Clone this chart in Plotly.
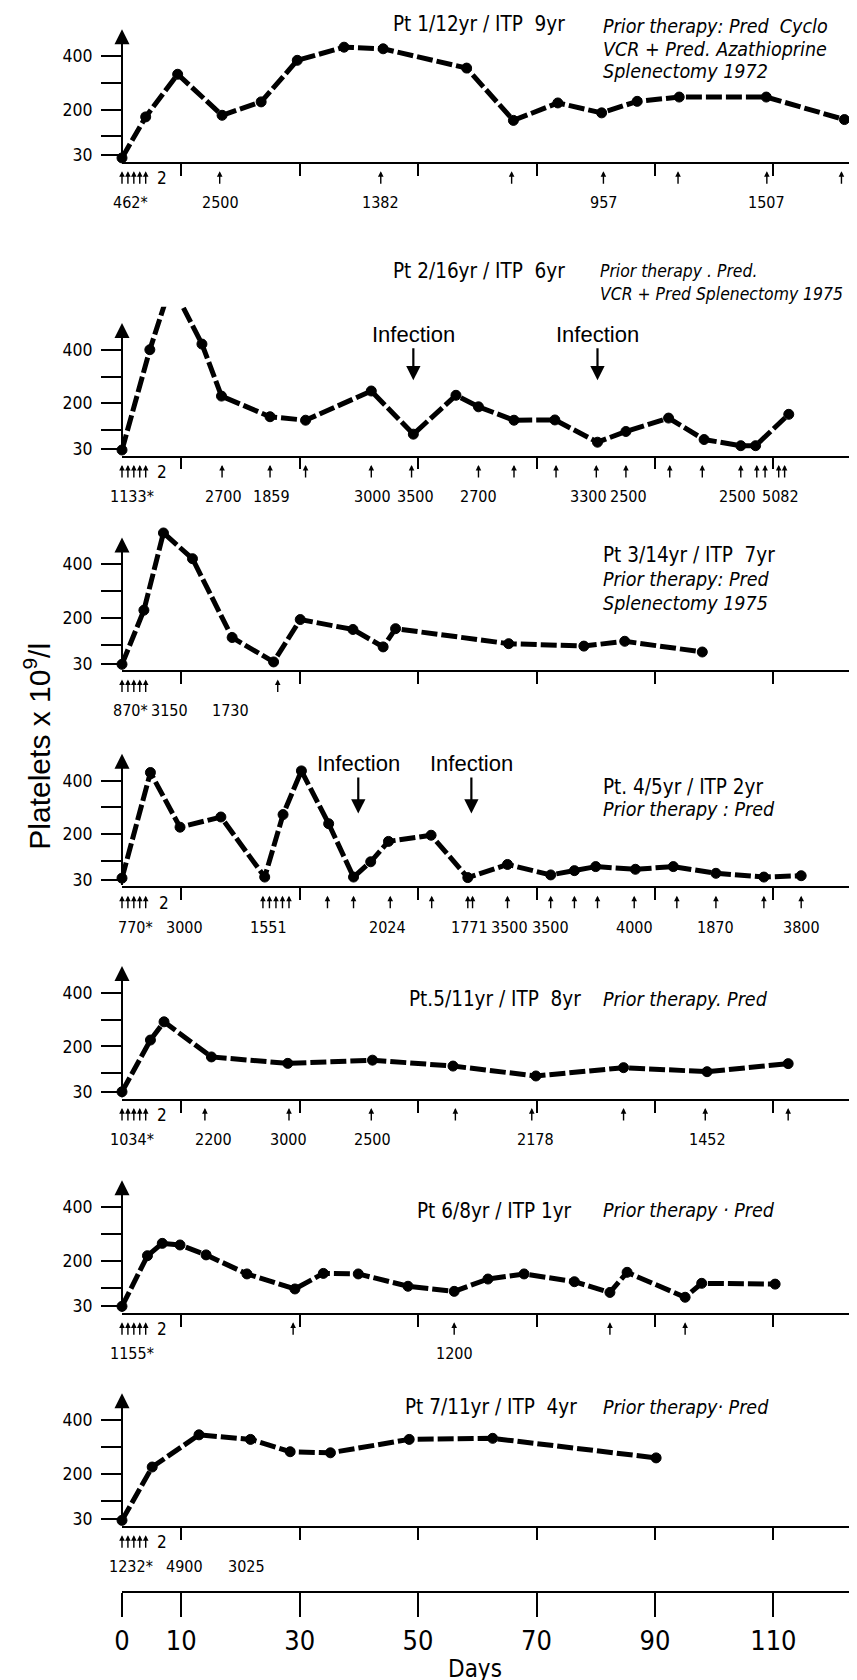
import plotly.graph_objects as go

W, H = 857, 1680
ML, MR, MT, MB = 114, 4, 0, 0
X_MAX = 124.8
Y_LO, Y_HI = 5, 560
PXU = 0.2686  # pixels per platelet unit
NARROW = "Liberation Sans Narrow, DejaVu Sans Condensed, Arial Narrow, sans-serif"
SANS = "Liberation Sans, Arial, sans-serif"

X_TICKS = [10, 30, 50, 70, 90, 110]
BOTTOM_TICKS = [0, 10, 30, 50, 70, 90, 110]
BOTTOM_TICKTEXT = ["0", "10", "30", "50", "70", "90", "110"]
Y_TICKS = [30, 200, 400]
Y_TICKTEXT = ["30", "200", "400"]
Y_MINOR_TICKS = [100, 300]

# ---------------- data ----------------
p1_days = [0, 4.0, 9.4, 16.9, 23.5, 29.6, 37.5, 44.1, 58.2, 66.1, 73.6, 81.0, 87.0, 94.1, 108.8, 122.0]
p1_vals = [20, 173, 332, 179, 229, 384, 433, 427, 355, 160, 225, 188, 231, 247, 247, 163]
p1_doses = [0, 1, 2, 3, 4, 16.5, 43.7, 65.8, 81.3, 93.9, 108.9, 121.5]
p1_label_days = [1.5, 16.6, 43.7, 81.3, 108.9]
p1_labels = ["462*", "2500", "1382", "957", "1507"]

p2_days = [0, 4.7, 8.3, 13.5, 16.8, 25.0, 31.0, 42.1, 49.2, 56.4, 60.2, 66.2, 73.1, 80.3, 85.1, 92.3, 98.3, 104.5, 107.0, 112.6]
p2_vals = [26, 400, 645, 421, 227, 150, 137, 246, 85, 230, 187, 137, 138, 55, 95, 145, 65, 42, 42, 159]
p2_doses = [0, 1, 2, 3, 4, 16.9, 25.0, 31.0, 42.1, 48.9, 60.2, 66.2, 73.3, 80.1, 85.1, 92.5, 98.0, 104.5, 107.2, 108.6, 110.9, 111.9]
p2_label_days = [1.7, 17.2, 25.2, 42.3, 49.5, 60.2, 78.7, 85.6, 104.0, 111.2]
p2_labels = ["1133*", "2700", "1859", "3000", "3500", "2700", "3300", "2500", "2500", "5082"]
p2_infection_days = [49.2, 80.3]

p3_days = [0, 3.7, 7.0, 11.9, 18.6, 25.6, 30.1, 39.0, 44.1, 46.2, 65.3, 78.0, 84.9, 98.0]
p3_vals = [27, 229, 517, 421, 127, 36, 194, 157, 92, 160, 104, 95, 113, 73]
p3_doses = [0, 1, 2, 3, 4, 26.3]
p3_label_days = [1.4, 8.1, 18.3]
p3_labels = ["870*", "3150", "1730"]

p4_days = [0, 4.8, 9.8, 16.7, 24.1, 27.2, 30.3, 34.9, 39.1, 42.0, 45.0, 52.2, 58.4, 65.1, 72.4, 76.4, 80.0, 86.7, 93.1, 100.3, 108.4, 114.7]
p4_vals = [36, 430, 226, 264, 40, 273, 436, 239, 40, 97, 173, 196, 38, 87, 48, 64, 79, 69, 79, 54, 40, 45]
p4_doses = [0, 1, 2, 3, 4, 23.8, 24.9, 26.0, 27.1, 28.2, 34.7, 39.1, 45.3, 52.3, 58.4, 59.2, 65.1, 72.4,
            76.4, 80.3, 86.5, 93.7, 100.3, 108.4, 114.7]
p4_label_days = [2.3, 10.5, 24.7, 44.8, 58.6, 65.5, 72.4, 86.5, 100.3, 114.7]
p4_labels = ["770*", "3000", "1551", "2024", "1771", "3500", "3500", "4000", "1870", "3800"]
p4_infection_days = [39.9, 59.0]

p5_days = [0, 4.8, 7.1, 15.1, 28.0, 42.3, 55.9, 69.9, 84.7, 98.8, 112.5]
p5_vals = [31, 224, 292, 161, 137, 149, 127, 90, 121, 106, 136]
p5_doses = [0, 1, 2, 3, 4, 14.0, 28.2, 42.1, 56.3, 69.2, 84.7, 98.5, 112.5]
p5_label_days = [1.7, 15.5, 28.2, 42.3, 69.9, 98.9]
p5_labels = ["1034*", "2200", "3000", "2500", "2178", "1452"]

p6_days = [0, 4.3, 6.8, 9.8, 14.2, 21.1, 29.2, 34.0, 39.9, 48.3, 56.1, 61.8, 67.9, 76.4, 82.4, 85.3, 95.1, 97.9, 110.3]
p6_vals = [30, 219, 265, 259, 222, 151, 95, 153, 151, 105, 86, 132, 151, 122, 82, 157, 64, 116, 113]
p6_doses = [0, 1, 2, 3, 4, 28.9, 56.1, 82.4, 95.1]
p6_label_days = [1.7, 56.1]
p6_labels = ["1155*", "1200"]

p7_days = [0, 5.1, 13.0, 21.7, 28.4, 35.2, 48.5, 62.6, 90.2]
p7_vals = [26, 225, 345, 328, 282, 278, 328, 332, 259]
p7_doses = [0, 1, 2, 3, 4]
p7_label_days = [1.5, 10.6, 21.0]
p7_labels = ["1232*", "4900", "3025"]

# ---------------- layout helpers ----------------
def fx(px):
    return (px - ML) / (W - ML - MR)

def fy(py):
    return 1 - (py - MT) / (H - MT - MB)

TITLE_SIZE = 20.5
NOTE_SIZE = 19.5
LABEL_SIZE = 16

panels = [
    dict(days=p1_days, vals=p1_vals, doses=p1_doses, ldays=p1_label_days, labels=p1_labels, count_day=5.6,
         base=147.5, infections=[], inf_tip=None,
         title=("Pt 1/12yr / ITP  9yr", 383, 16),
         notes=(["Prior therapy: Pred  Cyclo", "VCR + Pred. Azathioprine", "Splenectomy 1972"], 593, [19, 42, 64], NOTE_SIZE)),
    dict(days=p2_days, vals=p2_vals, doses=p2_doses, ldays=p2_label_days, labels=p2_labels, count_day=5.6,
         base=441.7, infections=p2_infection_days, inf_tip=(373, -46),
         title=("Pt 2/16yr / ITP  6yr", 383, 263),
         notes=(["Prior therapy . Pred.", "VCR + Pred Splenectomy 1975"], 590, [263, 287], 17.4)),
    dict(days=p3_days, vals=p3_vals, doses=p3_doses, ldays=p3_label_days, labels=p3_labels, count_day=None,
         base=656.7, infections=[], inf_tip=None,
         title=("Pt 3/14yr / ITP  7yr", 593, 548),
         notes=(["Prior therapy: Pred", "Splenectomy 1975"], 593, [573, 597], NOTE_SIZE)),
    dict(days=p4_days, vals=p4_vals, doses=p4_doses, ldays=p4_label_days, labels=p4_labels, count_day=5.9,
         base=873.3, infections=p4_infection_days, inf_tip=(807, -50),
         title=("Pt. 4/5yr / ITP 2yr", 593, 780),
         notes=(["Prior therapy : Pred"], 593, [803], NOTE_SIZE)),
    dict(days=p5_days, vals=p5_vals, doses=p5_doses, ldays=p5_label_days, labels=p5_labels, count_day=5.6,
         base=1086, infections=[], inf_tip=None,
         title=("Pt.5/11yr / ITP  8yr", 399, 993),
         notes=(["Prior therapy. Pred"], 593, [993], NOTE_SIZE)),
    dict(days=p6_days, vals=p6_vals, doses=p6_doses, ldays=p6_label_days, labels=p6_labels, count_day=5.6,
         base=1300.7, infections=[], inf_tip=None,
         title=("Pt 6/8yr / ITP 1yr", 407, 1205),
         notes=(["Prior therapy · Pred"], 593, [1205], NOTE_SIZE)),
    dict(days=p7_days, vals=p7_vals, doses=p7_doses, ldays=p7_label_days, labels=p7_labels, count_day=5.6,
         base=1514, infections=[], inf_tip=None,
         title=("Pt 7/11yr / ITP  4yr", 395, 1402),
         notes=(["Prior therapy· Pred"], 593, [1402], NOTE_SIZE)),
]

fig = go.Figure()
annotations = []
axes = {}

for i, p in enumerate(panels, start=1):
    sfx = "" if i == 1 else str(i)
    xa, ya = "x" + sfx, "y" + sfx
    b = p["base"]
    bottom_px = b + (30 - Y_LO) * PXU
    top_px = b - (Y_HI - 30) * PXU
    sizes = [10 if v <= Y_HI else 0 for v in p["vals"]]
    fig.add_trace(go.Scatter(
        x=p["days"], y=p["vals"], xaxis=xa, yaxis=ya, mode="lines+markers",
        line=dict(color="black", width=5, dash="16px,4px"),
        marker=dict(color="black", size=sizes, opacity=1, line=dict(color="black", width=1)),
        cliponaxis=False, showlegend=False, hoverinfo="skip"))
    axes["xaxis" + sfx] = dict(
        domain=[0, 1], range=[0, X_MAX], anchor=ya, showline=True, linecolor="black", linewidth=1.5,
        ticks="outside", tickvals=X_TICKS, ticklen=12, tickwidth=1.5, tickcolor="black",
        showticklabels=False, showgrid=False, zeroline=False)
    axes["yaxis" + sfx] = dict(
        domain=[fy(bottom_px), fy(top_px)], range=[Y_LO, Y_HI], anchor=xa,
        tickvals=Y_TICKS, ticktext=Y_TICKTEXT, ticks="outside", ticklen=20, tickwidth=1.5,
        tickcolor="black", tickfont=dict(family=NARROW, size=17.5, color="black"),
        minor=dict(tickvals=Y_MINOR_TICKS, ticks="outside", ticklen=20, tickwidth=1.5,
                   tickcolor="black", showgrid=False),
        showline=False, showgrid=False, zeroline=False, ticklabelstandoff=5)
    # y-axis line with arrow head
    annotations.append(dict(x=0, y=500, xref=xa, yref=ya, axref=xa, ayref=ya, ax=0, ay=Y_LO,
                            text="", showarrow=True, arrowhead=2, arrowsize=1.5, arrowwidth=2,
                            arrowcolor="black"))
    # dose arrows
    for d in p["doses"]:
        annotations.append(dict(x=d, y=fy(b + 16), xref=xa, yref="paper", ax=0, ay=14, text="",
                                showarrow=True, arrowhead=2, arrowsize=0.8, arrowwidth=1.4,
                                arrowcolor="black"))
    if p["count_day"] is not None:
        annotations.append(dict(x=p["count_day"], y=fy(b + 23), xref=xa, yref="paper", text="2",
                                showarrow=False, xanchor="left", yanchor="middle",
                                font=dict(family=NARROW, size=LABEL_SIZE + 1, color="black")))
    for d, t in zip(p["ldays"], p["labels"]):
        annotations.append(dict(x=d, y=fy(b + 47.5), xref=xa, yref="paper", text=t, showarrow=False,
                                xanchor="center", yanchor="middle",
                                font=dict(family=NARROW, size=LABEL_SIZE, color="black")))
    for d in p["infections"]:
        tip, off = p["inf_tip"]
        annotations.append(dict(x=d, y=fy(tip), xref=xa, yref="paper", ax=0, ay=off, text="Infection",
                                showarrow=True, arrowhead=2, arrowsize=1.3, arrowwidth=2.2,
                                arrowcolor="black", font=dict(family=SANS, size=22, color="black")))
    t, tx, ty = p["title"]
    annotations.append(dict(x=fx(tx), y=fy(ty), xref="paper", yref="paper", text=t, showarrow=False,
                            xanchor="left", yanchor="middle",
                            font=dict(family=NARROW, size=TITLE_SIZE, color="black")))
    lines, nx, nys, nsize = p["notes"]
    for line, ny in zip(lines, nys):
        annotations.append(dict(x=fx(nx), y=fy(ny), xref="paper", yref="paper", text="<i>" + line + "</i>",
                                showarrow=False, xanchor="left", yanchor="middle",
                                font=dict(family=NARROW, size=nsize, color="black")))

# bottom "Days" axis
BOTTOM_PX = 1586
fig.add_trace(go.Scatter(x=[0], y=[0], xaxis="x8", yaxis="y8", mode="markers",
                         marker=dict(opacity=0), showlegend=False, hoverinfo="skip"))
axes["xaxis8"] = dict(domain=[0, 1], range=[0, X_MAX], anchor="y8", showline=True, linecolor="black",
                      linewidth=2, ticks="outside", tickvals=BOTTOM_TICKS, ticktext=BOTTOM_TICKTEXT,
                      ticklen=24, tickwidth=2, tickcolor="black",
                      tickfont=dict(family=NARROW, size=27, color="black"),
                      showgrid=False, zeroline=False, ticklabelstandoff=0)
axes["yaxis8"] = dict(domain=[fy(BOTTOM_PX), fy(BOTTOM_PX) + 0.002], range=[0, 1], anchor="x8",
                      visible=False)

annotations.append(dict(x=fx(467), y=fy(1664), xref="paper", yref="paper", text="Days", showarrow=False,
                        xanchor="center", yanchor="middle",
                        font=dict(family=NARROW, size=24, color="black")))
annotations.append(dict(x=fx(29), y=fy(740), xref="paper", yref="paper",
                        text="Platelets x 10<sup>9</sup>/l", textangle=-90, showarrow=False,
                        xanchor="center", yanchor="middle",
                        font=dict(family=SANS, size=30, color="black")))

fig.update_layout(width=W, height=H, margin=dict(l=ML, r=MR, t=MT, b=MB),
                  paper_bgcolor="white", plot_bgcolor="white", annotations=annotations, **axes)

fig.write_html("out.html")
